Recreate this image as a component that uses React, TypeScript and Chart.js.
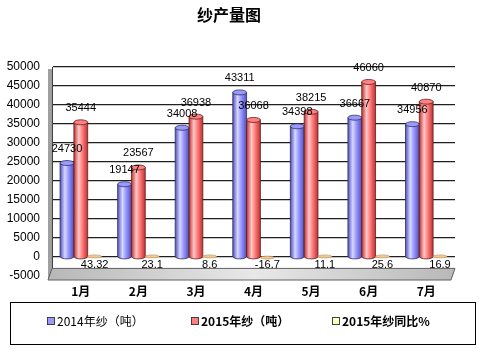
import React, { useEffect, useRef } from "react";
import { Chart, registerables } from "chart.js";

Chart.register(...registerables);

const categories = ["1月", "2月", "3月", "4月", "5月", "6月", "7月"];
const yarn2014 = [24730, 19147, 34008, 43311, 34398, 36667, 34956];
const yarn2015 = [35444, 23567, 36938, 36068, 38215, 46060, 40870];
const yoy2015 = [43.32, 23.1, 8.6, -16.7, 11.1, 25.6, 16.9];
const seriesNames = ["2014年纱（吨）", "2015年纱（吨）", "2015年纱同比%"];
const seriesColors = ["#9999FF", "#FF8080", "#F0C890"];
const seriesDark = ["#5050C0", "#C03030", "#C09060"];
const seriesLight = ["#D8D8FF", "#FFC8C8", "#FFF0D0"];

const FONT = "'Liberation Sans', Arial, 'Noto Sans CJK SC', sans-serif";
const CJK = "'Noto Sans CJK SC', 'Liberation Sans', sans-serif";

export default function App() {
  const ref = useRef<HTMLCanvasElement>(null);
  useEffect(() => {
    document.body.style.margin = "0";
    const canvas = ref.current!;
    const wallPlugin = {
      id: "wall",
      beforeDatasetsDraw(chart: any) {
        const { ctx, chartArea } = chart;
        const y = chart.scales.y;
        const l = chartArea.left, r = chartArea.right;
        ctx.save();
        ctx.fillStyle = "#A0A0A0";
        ctx.fillRect(l - 4, chartArea.top + 2, 4, chartArea.bottom - chartArea.top);
        const fy = y.getPixelForValue(-5000);
        const fy0 = y.getPixelForValue(-3000);
        const g = ctx.createLinearGradient(l, 0, r, 0);
        g.addColorStop(0, "#B8B8B8");
        g.addColorStop(0.5, "#E8E8E8");
        g.addColorStop(1, "#B8B8B8");
        ctx.fillStyle = g;
        ctx.beginPath();
        ctx.moveTo(l, fy0);
        ctx.lineTo(r, fy0);
        ctx.lineTo(r - 4, fy + 4);
        ctx.lineTo(l - 4, fy + 4);
        ctx.closePath();
        ctx.fill();
        ctx.strokeStyle = "#606060";
        ctx.lineWidth = 1;
        ctx.stroke();
        ctx.restore();
      },
    };
    const barPlugin = {
      id: "cyl",
      afterDatasetsDraw(chart: any) {
        const { ctx } = chart;
        chart.data.datasets.forEach((ds: any, di: number) => {
          const meta = chart.getDatasetMeta(di);
          meta.data.forEach((bar: any) => {
            const w = bar.width;
            const x0 = bar.x - w / 2;
            const ry = di === 2 ? 1.5 : 2.5;
            if (di === 2) {
              ctx.save();
              ctx.beginPath();
              ctx.ellipse(bar.x, bar.base, w / 2, ry, 0, 0, Math.PI * 2);
              ctx.fillStyle = seriesColors[2];
              ctx.fill();
              ctx.strokeStyle = "#C09060";
              ctx.lineWidth = 0.6;
              ctx.stroke();
              ctx.restore();
              return;
            }
            const top = Math.min(bar.y, bar.base);
            const bot = Math.max(bar.y, bar.base);
            const g = ctx.createLinearGradient(x0, 0, x0 + w, 0);
            g.addColorStop(0, seriesDark[di]);
            g.addColorStop(0.35, seriesLight[di]);
            g.addColorStop(0.6, seriesColors[di]);
            g.addColorStop(1, seriesDark[di]);
            ctx.save();
            ctx.fillStyle = g;
            ctx.beginPath();
            ctx.moveTo(x0, top);
            ctx.lineTo(x0, bot);
            ctx.ellipse(bar.x, bot, w / 2, ry, 0, Math.PI, 0, true);
            ctx.lineTo(x0 + w, top);
            ctx.closePath();
            ctx.fill();
            ctx.strokeStyle = di === 1 ? "#602020" : "#303060";
            ctx.lineWidth = 0.8;
            ctx.stroke();
            ctx.beginPath();
            ctx.ellipse(bar.x, top, w / 2, ry, 0, 0, Math.PI * 2);
            ctx.fillStyle = seriesColors[di];
            ctx.fill();
            ctx.stroke();
            ctx.restore();
          });
        });
        ctx.save();
        ctx.font = `11px ${FONT}`;
        ctx.fillStyle = "#000";
        ctx.textAlign = "center";
        ctx.textBaseline = "middle";
        const zero = chart.scales.y.getPixelForValue(0);
        chart.data.datasets.forEach((ds: any, di: number) => {
          const meta = chart.getDatasetMeta(di);
          meta.data.forEach((bar: any, i: number) => {
            const v = ds.data[i];
            if (di === 2) ctx.fillText(String(v), bar.x, zero + 8);
            else ctx.fillText(String(v), bar.x, bar.y - 14);
          });
        });
        ctx.restore();
        ctx.save();
        ctx.font = `bold 16px ${CJK}`;
        ctx.fillStyle = "#000";
        ctx.textAlign = "center";
        ctx.textBaseline = "middle";
        ctx.fillText("纱产量图", 229, 15);
        ctx.restore();
        ctx.save();
        ctx.strokeStyle = "#000";
        ctx.lineWidth = 1;
        ctx.strokeRect(10.5, 302.5, 465, 42);
        const items = [
          { x: 47, bold: false },
          { x: 191, bold: true },
          { x: 332, bold: true },
        ];
        ctx.textBaseline = "middle";
        ctx.textAlign = "left";
        items.forEach((it, k) => {
          ctx.fillStyle = k === 2 ? "#FFFFC0" : seriesColors[k];
          ctx.fillRect(it.x, 317, 8, 8);
          ctx.strokeStyle = "#404040";
          ctx.strokeRect(it.x + 0.5, 317.5, 7, 7);
          ctx.fillStyle = "#000";
          ctx.font = `${it.bold ? "bold " : ""}12px ${CJK}`;
          ctx.fillText(seriesNames[k], it.x + 10, 321.5);
        });
        ctx.restore();
      },
    };
    const chart = new Chart(canvas, {
      type: "bar",
      data: {
        labels: categories,
        datasets: [
          { label: seriesNames[0], data: yarn2014, backgroundColor: "rgba(0,0,0,0)", borderWidth: 0 },
          { label: seriesNames[1], data: yarn2015, backgroundColor: "rgba(0,0,0,0)", borderWidth: 0 },
          { label: seriesNames[2], data: yoy2015, backgroundColor: "rgba(0,0,0,0)", borderWidth: 0 },
        ],
      },
      options: {
        responsive: false,
        animation: false,
        events: [],
        layout: { padding: { top: 67, right: 25, bottom: 51, left: 0 } },
        datasets: { bar: { categoryPercentage: 0.72, barPercentage: 1.0 } },
        plugins: { legend: { display: false }, tooltip: { enabled: false }, title: { display: false } },
        scales: {
          x: {
            grid: { display: false, drawTicks: false },
            border: { display: false },
            ticks: { font: { family: CJK, size: 12, weight: "bold" }, color: "#000", padding: 8 },
            afterFit(scale: any) { scale.height = 24; },
          },
          y: {
            min: -5000,
            max: 50000,
            ticks: {
              stepSize: 5000,
              font: { family: FONT, size: 12 },
              color: "#000",
              padding: 12,
              callback: (v: any) => String(v),
            },
            grid: {
              drawTicks: false,
              color: (c: any) => (c.tick && c.tick.value < 0 ? "rgba(0,0,0,0)" : "#202020"),
              lineWidth: 1.2,
            },
            border: { display: true, color: "#404040" },
            afterFit(scale: any) { scale.width = 52; },
          },
        },
      },
      plugins: [wallPlugin, barPlugin],
    });
    return () => chart.destroy();
  }, []);
  return <canvas ref={ref} width={480} height={351} style={{ display: "block" }} />;
}
